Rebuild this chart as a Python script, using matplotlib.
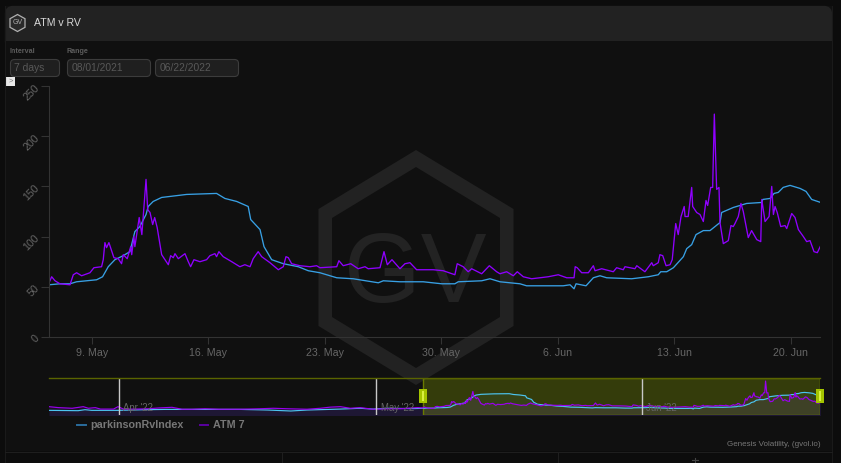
import matplotlib
matplotlib.use("Agg")
import matplotlib.pyplot as plt
import matplotlib.dates as mdates
from matplotlib.lines import Line2D
from matplotlib.patches import FancyBboxPatch, Polygon, Rectangle
from datetime import datetime, timedelta

W, H = 841, 463
plt.rcParams['font.family'] = ['Liberation Sans', 'DejaVu Sans']

# all days are counted from 9 May 2022
start = datetime(2022, 5, 9)

atm_days = [-2.58, -2.42, -2.22, -1.92, -1.32, -1.12, -0.92, -0.62, -0.12, 0.12, 0.58, 0.68, 0.78, 0.88, 1.02, 1.32,
            1.58, 1.78, 1.88, 2.12, 2.33, 2.39, 2.52, 2.58, 2.84, 3.0, 3.25, 3.35, 3.49, 3.65, 3.77, 3.92,
            4.19, 4.59, 4.73, 4.89, 4.99, 5.19, 5.59, 5.79, 5.93, 6.13, 6.49, 6.89, 7.09, 7.39, 7.49, 7.63,
            7.89, 8.40, 8.89, 9.19, 9.50, 9.69, 9.99, 10.2, 10.7, 11.2, 11.5, 11.66, 11.8, 12.0, 12.5, 13.1,
            13.5, 13.7, 14.71, 14.84, 15.1, 15.55, 16.0, 16.41, 16.6, 17.31, 17.55, 17.75, 18.03, 18.51, 18.81, 19.11,
            19.51, 20.51, 21.11, 21.81, 21.95, 22.31, 22.61, 22.82, 23.42, 23.88, 24.32, 24.52, 24.92, 25.32, 25.56, 25.92,
            26.42, 27.42, 28.02, 28.53, 28.97, 29.04, 29.16, 29.43, 29.83, 30.13, 30.23, 30.63, 31.33, 31.53, 31.93, 32.03,
            32.63, 32.74, 33.23, 33.64, 33.73, 34.03, 34.13, 34.3, 34.5, 34.74, 34.87, 35.08, 35.23, 35.4, 35.59, 35.64,
            35.83, 36.04, 36.1, 36.34, 36.54, 36.74, 36.9, 37.0, 37.18, 37.3, 37.4, 37.54, 37.68, 37.74, 37.94, 38.24,
            38.4, 38.54, 38.64, 38.84, 39.0, 39.14, 39.44, 39.64, 39.95, 40.19, 40.25, 40.45, 40.69, 40.85, 40.95, 41.05,
            41.18, 41.39, 41.65, 41.75, 42.05, 42.25, 42.45, 42.75, 42.95, 43.15, 43.39, 43.59, 43.79]
atm_values = [54, 60, 56, 53, 52, 62, 64, 61, 64, 69, 70, 77, 94, 89, 94, 79,
              78, 73, 82, 78, 90, 82, 100, 90, 119, 102, 157, 127, 124, 112, 119, 109,
              82, 72, 81, 79, 83, 78, 83, 75, 70, 77, 75, 77, 81, 83, 80, 85,
              80, 75, 70, 72, 70, 78, 85, 80, 74, 67, 70, 80, 79, 73, 71, 70,
              71, 69, 70, 76, 71, 73, 68, 70, 68, 69, 85, 72, 77, 68, 73, 74,
              67, 67, 66, 62, 73, 70, 65, 68, 63, 71, 65, 63, 65, 61, 65, 60,
              58, 60, 62, 59, 59, 70, 69, 64, 64, 71, 66, 68, 65, 69, 67, 70,
              68, 71, 65, 74, 71, 74, 82, 81, 71, 72, 77, 113, 102, 120, 130, 120,
              120, 149, 130, 124, 122, 115, 136, 131, 149, 149, 222, 147, 149, 114, 93, 96,
              111, 110, 113, 120, 133, 125, 99, 106, 97, 95, 137, 115, 120, 150, 122, 130,
              124, 110, 111, 108, 123, 119, 107, 100, 95, 96, 85, 84, 91]

rv_days = [-2.58, -1.92, -1.32, -0.92, 0.28, 0.64, 0.98, 1.38, 1.88, 2.28, 2.58, 2.88, 3.25, 3.38, 3.68, 4.19,
           4.69, 5.69, 7.49, 7.99, 8.70, 9.39, 9.54, 10.1, 10.34, 10.8, 11.5, 12.4, 13.0, 13.7, 14.71, 15.7,
           17.21, 17.51, 18.51, 19.91, 21.02, 21.81, 22.01, 23.42, 23.92, 24.52, 25.72, 26.12, 28.32, 28.73, 28.97, 29.09,
           29.69, 30.13, 30.53, 30.93, 32.43, 33.43, 34.03, 34.18, 34.54, 34.94, 35.54, 35.74, 36.04, 36.3, 36.74, 37.14,
           37.74, 37.84, 38.54, 39.34, 40.25, 40.31, 40.75, 40.99, 41.24, 41.54, 41.95, 42.55, 42.91, 43.25, 43.79]
rv_values = [52, 53, 53, 55, 57, 60, 70, 77, 81, 85, 105, 110, 122, 130, 135, 139,
             140, 142, 143, 138, 135, 130, 117, 107, 90, 77, 73, 70, 66, 64, 59, 58,
             54, 56, 55, 55, 53, 53, 55, 56, 58, 55, 53, 51, 51, 52, 48, 53,
             51, 59, 61, 59, 58, 60, 62, 65, 65, 69, 80, 88, 92, 102, 106, 106,
             114, 124, 129, 133, 134, 137, 138, 143, 144, 149, 151, 148, 145, 137, 134]

# earlier history, only visible in the navigator
atm_hist_days = [-46.2, -45.1, -43.5, -42.2, -41.6, -40.8, -40.2, -38.67, -38.15, -37.5, -36.13,
                 -34.58, -33.41, -31.85, -30.68, -29.52, -28.0, -26.4, -24.85, -23.9, -21.6, -20.03,
                 -18.4, -16.1, -14.55, -13.4, -12.2, -11.05, -9.9, -8.4, -6.7, -5.2, -3.2]
atm_hist_values = [62, 56, 52, 62, 52, 56, 47, 47, 62, 47, 47,
                   49, 54, 58, 46, 46, 49, 46, 46, 46, 49, 52,
                   49, 46, 52, 59, 62, 52, 56, 46, 49, 49, 56]
rv_hist_days = [-46.2, -42.8, -42.0, -41.2, -38.1, -35.0, -32.6, -30.3, -28.0, -23.9, -20.7, -18.0, -16.1, -12.2,
                -9.9, -8.4, -6.7, -3.7]
rv_hist_values = [39, 37, 43, 39, 39, 43, 45, 45, 45, 45, 41, 35, 41, 47, 52, 47, 52, 50]

y_ticks = [0, 50, 100, 150, 200, 250]
month_ticks = [datetime(2022, 4, 1), datetime(2022, 5, 1), datetime(2022, 6, 1)]
month_labels = ["Apr '22", "May '22", "Jun '22"]
input_labels = ["7 days", "08/01/2021", "06/22/2022"]
series_names = ["parkinsonRvIndex", "ATM 7"]

ATM_COLOR = '#8f00ff'
RV_COLOR = '#38a0e4'
TXT = '#666666'


def to_dates(days):
    return [start + timedelta(days=d) for d in days]


def px_axes(fig, rect):
    # helper, position given in pixels from the top left
    x0, y0, x1, y1 = rect
    return fig.add_axes([x0 / W, 1 - y1 / H, (x1 - x0) / W, (y1 - y0) / H])


def hexagon(ax, cx, top, bottom, half_w, shoulder, **kw):
    pts = [(cx, top), (cx + half_w, top + shoulder), (cx + half_w, bottom - shoulder),
           (cx, bottom), (cx - half_w, bottom - shoulder), (cx - half_w, top + shoulder)]
    ax.add_patch(Polygon(pts, closed=True, **kw))


def draw_chrome(fig):
    ax = fig.add_axes([0, 0, 1, 1], zorder=0)
    ax.set_xlim(0, W)
    ax.set_ylim(H, 0)
    ax.axis('off')

    ax.add_patch(Rectangle((5, 6), 827, 445, fc='#101010', ec='none'))
    ax.add_patch(FancyBboxPatch((9, 10), 819, 35, boxstyle='round,pad=0,rounding_size=4', fc='#222222',
                                ec='#222222', lw=6))
    ax.add_patch(Rectangle((5, 41), 827, 12, fc='#101010', ec='none'))
    ax.plot([5, 5], [6, 463], color='#1a1a1a', lw=0.8)
    ax.plot([832, 832], [6, 463], color='#1a1a1a', lw=0.8)
    ax.plot([5, 832], [451.5, 451.5], color='#1e1e1e', lw=0.8)
    ax.plot([282, 282], [451.5, 463], color='#1e1e1e', lw=0.8)
    ax.plot([558, 558], [451.5, 463], color='#1e1e1e', lw=0.8)
    ax.plot([695, 695], [458, 463], color='#444444', lw=0.8)
    ax.plot([692, 698], [460, 460], color='#444444', lw=0.8)

    # header
    hexagon(ax, 17.5, 14.5, 31.5, 7.5, 4.2, fc='#2a2a2a', ec='#b0b0b0', lw=0.9)
    ax.text(17.5, 23, 'GV', color='#b0b0b0', fontsize=5, ha='center', va='center')
    ax.text(34, 23, 'ATM v RV', color='#d8d8d8', fontsize=7.6, va='center')

    # inputs
    ax.text(10, 51.5, 'Interval', color='#5c5c5c', fontsize=5.1, fontweight='bold', va='center')
    ax.text(67, 51.5, 'Range', color='#5c5c5c', fontsize=5.1, fontweight='bold', va='center')
    for (x0, x1), label in zip([(10.5, 59.5), (67.5, 150.5), (155.5, 238.5)], input_labels):
        ax.add_patch(FancyBboxPatch((x0, 59.5), x1 - x0, 17, boxstyle='round,pad=0,rounding_size=4',
                                    fc='#1f1f1f', ec='#3c3c3c', lw=0.8))
        ax.text(x0 + 4, 68, label, color='#585858', fontsize=7.4, va='center')

    ax.add_patch(Rectangle((6, 77), 9, 9, fc='#e8e8e8', ec='none'))
    ax.text(10.5, 81.3, '>', color='#777777', fontsize=5.5, ha='center', va='center')

    # watermark
    hexagon(ax, 416, 150, 385, 97.5, 59, fc='#222222', ec='none')
    hexagon(ax, 416, 167, 368, 84, 51, fc='#101010', ec='none')
    ax.text(415, 302, 'GV', color='#232323', fontsize=71, ha='center', va='baseline')

    ax.text(821, 444.5, 'Genesis Volatility, (gvol.io)', color='#777777', fontsize=5.8, ha='right', va='center')


def draw_main(fig, xlim):
    ax = px_axes(fig, (49, 86, 820, 337))
    ax.set_zorder(1)
    ax.patch.set_alpha(0)
    ax.plot(to_dates(rv_days), rv_values, color=RV_COLOR, lw=0.95)
    ax.plot(to_dates(atm_days), atm_values, color=ATM_COLOR, lw=0.95)
    ax.set_xlim(xlim)
    ax.set_ylim(0, 250)
    ax.set_yticks(y_ticks)
    ax.xaxis.set_major_locator(mdates.WeekdayLocator(byweekday=mdates.MO))
    ax.xaxis.set_major_formatter(mdates.DateFormatter('%-d. %b'))
    ax.tick_params(axis='x', colors='#333333', labelcolor=TXT, labelsize=7.7, length=5, width=0.8, pad=3)
    ax.tick_params(axis='y', colors='#333333', labelcolor=TXT, labelsize=7.7, length=5.5, width=0.8, pad=2.5)
    for label in ax.get_yticklabels():
        label.set_rotation(45)
        label.set_rotation_mode('anchor')
        label.set_ha('right')
        label.set_va('center')
    for side in ('top', 'right'):
        ax.spines[side].set_visible(False)
    for side in ('left', 'bottom'):
        ax.spines[side].set_color('#333333')
        ax.spines[side].set_linewidth(0.8)
    return ax


def draw_navigator(fig, xlim, selected):
    ax = px_axes(fig, (49, 378, 820, 415))
    ax.set_zorder(2)
    ax.patch.set_alpha(0)
    nav_atm_x = to_dates(atm_hist_days + atm_days)
    nav_atm_y = atm_hist_values + atm_values
    nav_rv_x = to_dates(rv_hist_days + rv_days)
    nav_rv_y = rv_hist_values + rv_values

    ax.fill_between(nav_rv_x, nav_rv_y, 0, color=RV_COLOR, alpha=0.07, lw=0)
    ax.fill_between(nav_atm_x, nav_atm_y, 0, color=ATM_COLOR, alpha=0.1, lw=0)
    ax.plot(nav_rv_x, nav_rv_y, color='#4cc4f0', lw=0.85)
    ax.plot(nav_atm_x, nav_atm_y, color='#9a00f0', lw=0.85)

    ax.set_xlim(xlim)
    ax.set_ylim(10, 241)
    ax.set_xticks([])
    ax.set_yticks([])
    for side in ax.spines:
        ax.spines[side].set_visible(False)
    ax.spines['top'].set_visible(True)
    ax.spines['top'].set_color('#5a6400')
    ax.spines['top'].set_linewidth(1)

    for tick, label in zip(month_ticks, month_labels):
        ax.axvline(tick, color='#c8c8c8', lw=1)
        ax.annotate(label, (tick, 0.19), xycoords=('data', 'axes fraction'), xytext=(3, 0),
                    textcoords='offset points', color=TXT, fontsize=6.9, va='center')

    # selected range, same as the main chart
    ax.axvspan(selected[0], selected[1], fc='#a0c000', alpha=0.25, ec='none')
    ax.axvspan(selected[0], selected[1], fc='none', ec='#6a7a00', lw=1)
    return ax


def draw_overlay(fig):
    # range handles stick out of the navigator
    ax = fig.add_axes([0, 0, 1, 1], zorder=3)
    ax.set_xlim(0, W)
    ax.set_ylim(H, 0)
    ax.axis('off')
    for x in (419, 816):
        ax.add_patch(Rectangle((x, 389), 8, 14, fc='#a4c400', ec='none'))
        ax.add_patch(Rectangle((x + 3, 391), 2, 10, fc='#d8f040', ec='none'))
    handles = [Line2D([], [], color='#2a6c9c', lw=1.4), Line2D([], [], color='#5a00a0', lw=1.4)]
    fig.legend(handles, series_names, loc='center left', bbox_to_anchor=(67 / W, 1 - 425.5 / H), ncol=2,
               frameon=False, handlelength=0.82, handletextpad=0.42, columnspacing=1.5,
               prop={'size': 7.75, 'weight': 'bold'}, labelcolor='#777777')


def main():
    fig = plt.figure(figsize=(W / 100, H / 100), dpi=100, facecolor='#0c0c0c')
    draw_chrome(fig)
    xlim = (start + timedelta(days=-2.58), start + timedelta(days=43.75))
    draw_main(fig, xlim)
    nav_xlim = (start + timedelta(days=-46.2), start + timedelta(days=43.75))
    draw_navigator(fig, nav_xlim, xlim)
    draw_overlay(fig)
    fig.savefig('out.png', dpi=100, facecolor=fig.get_facecolor())


if __name__ == "__main__":
    main()
